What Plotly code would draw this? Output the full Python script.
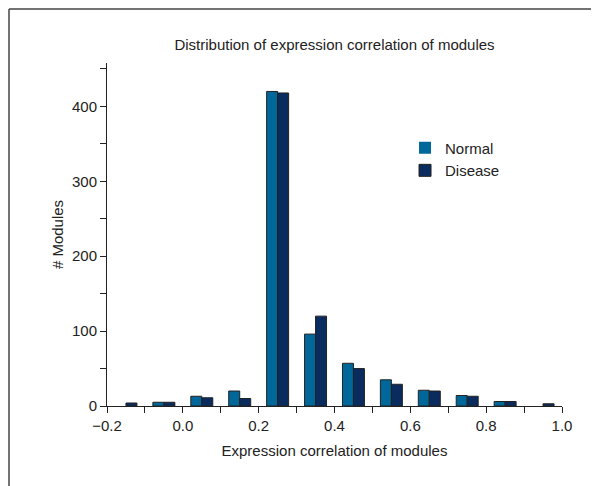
import plotly.graph_objects as go

bin_centers = [-0.15, -0.05, 0.05, 0.15, 0.25, 0.35, 0.45, 0.55, 0.65, 0.75, 0.85, 0.95]
normal = [0, 5, 13, 20, 420, 96, 57, 35, 21, 14, 6, 0]
disease = [4, 5, 11, 10, 418, 120, 50, 29, 20, 13, 6, 3]

FONT = "Liberation Sans Narrow, Arial Narrow, Liberation Sans, sans-serif"

# page has an 8px body margin, so the figure is sized/offset accordingly
W, H = 591, 478
L, R, T, B = 99, 37, 55, 80
PW, PH = W - L - R, H - T - B


def outline(vals):
    return [1 if v > 0 else 0 for v in vals]


fig = go.Figure()
fig.add_trace(go.Bar(x=bin_centers, y=normal, name="Normal",
                     marker=dict(color="#00679b",
                                 line=dict(color="#222222", width=outline(normal)))))
fig.add_trace(go.Bar(x=bin_centers, y=disease, name="Disease",
                     marker=dict(color="#0a2b5e",
                                 line=dict(color="#222222", width=outline(disease)))))

fig.update_layout(
    width=W, height=H,
    margin=dict(l=L, r=R, t=T, b=B),
    paper_bgcolor="white", plot_bgcolor="white",
    barmode="group", bargap=0.42, bargroupgap=0,
    font=dict(family=FONT, size=15, color="#222222"),
    title=dict(text="Distribution of expression correlation of modules",
               x=0.5, xanchor="center", xref="paper", y=1 - 37/H, yanchor="middle",
               font=dict(family=FONT, size=15, color="#222222")),
    showlegend=True,
    legend=dict(x=0.655, y=0.80, xanchor="left", yanchor="top",
                bgcolor="rgba(0,0,0,0)", font=dict(family=FONT, size=15),
                itemwidth=30, tracegroupgap=0),
    xaxis=dict(range=[-0.2, 1.0], dtick=0.2, tick0=-0.2, tickformat=".1f",
               showgrid=False, zeroline=False, showline=True, linecolor="#222222", linewidth=1,
               ticks="outside", ticklen=6, tickcolor="#222222",
               minor=dict(dtick=0.1, tick0=-0.2, ticks="outside", ticklen=6, tickcolor="#222222"),
               title=dict(text="Expression correlation of modules", standoff=12,
                          font=dict(family=FONT, size=15))),
    yaxis=dict(range=[0, 458], dtick=100, showgrid=False, zeroline=False,
               showline=True, linecolor="#222222", linewidth=1,
               ticks="outside", ticklen=6, tickcolor="#222222",
               minor=dict(dtick=50, ticks="outside", ticklen=6, tickcolor="#222222"),
               title=dict(text="# Modules", standoff=4, font=dict(family=FONT, size=15))),
)

# frame lines (top and left) as in the reference
fx = (1 - L) / PW
fy = (PH + T - 1) / PH
fig.add_shape(type="line", xref="paper", yref="paper",
              x0=fx, x1=(W - L) / PW, y0=fy, y1=fy,
              line=dict(color="#444444", width=1.5))
fig.add_shape(type="line", xref="paper", yref="paper",
              x0=fx, x1=fx, y0=fy, y1=-B / PH,
              line=dict(color="#444444", width=1.5))

fig.write_html("out.html")
